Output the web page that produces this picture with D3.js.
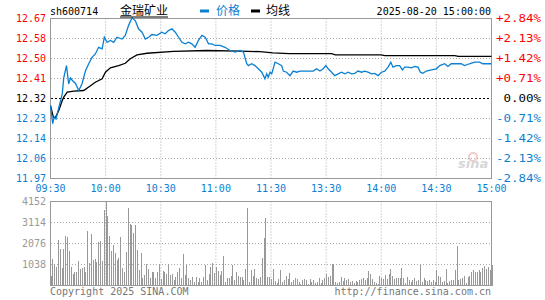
<!DOCTYPE html>
<html>
<head>
<meta charset="utf-8">
<script src="https://cdn.jsdelivr.net/npm/d3@7"></script>
<style>
  body { margin: 0; background: #fff; }
  svg text { font-family: "DejaVu Sans Mono", "Liberation Mono", monospace; font-size: 10px; }
  .cjk { font-family: "Noto Sans CJK SC", sans-serif; font-size: 12px; }
</style>
</head>
<body>
<div id="chart"></div>
<script>
const stockCode = "sh600714";
const stockName = "金瑞矿业";
const quoteTime = "2025-08-20 15:00:00";
const prevClose = 12.32;

const priceTicks = ["12.67", "12.58", "12.50", "12.41", "12.32", "12.23", "12.14", "12.06", "11.97"];
const pctTicks = ["+2.84%", "+2.13%", "+1.42%", "+0.71%", "0.00%", "-0.71%", "-1.42%", "-2.13%", "-2.84%"];
const volTicks = [4152, 3114, 2076, 1038];
const timeTicks = ["09:30", "10:00", "10:30", "11:00", "11:30", "13:30", "14:00", "14:30", "15:00"];

// price line: minute index / price
const priceMin = [0, 1.2, 2, 3, 4.5, 6.4, 7.2, 8.7, 9.9, 10.9, 11.8, 13.6, 15.4, 17.2, 19, 20.8, 22.6, 24.4, 26.2, 28.1,
  29.3, 30.8, 32.6, 34.4, 36.2, 38.9, 40.7, 42.5, 44.4, 46.2, 47.9, 49.8, 51.6, 53.4, 55.2, 57.9, 60.6, 62.4, 64.2, 66.1,
  67.9, 69.7, 71.5, 73.3, 75.1, 76.9, 78.7, 80.5, 82.4, 84.2, 86, 87.8, 89.6, 92.3, 95, 97.7, 100.5, 103.2, 105, 106.8,
  107.7, 109.5, 111.3, 113.1, 115, 116.7, 117.7, 118.5, 119.5, 120.4, 122.2, 124, 125.8, 126.7, 128.5, 130.3, 132.1, 134, 135.7, 139.4,
  143, 144.8, 146.6, 148.4, 149.9, 151.1, 153, 154.7, 156.5, 158.4, 160.2, 162, 163.8, 165.6, 167.4, 169.3, 171, 172.8, 174.7, 176.5,
  178.3, 180.1, 181.9, 183.7, 185.2, 186.4, 188.2, 190, 191.5, 192.8, 194.5, 196.4, 198.2, 200, 201.3, 202.7, 204.5, 207.3, 210, 211.8,
  214.5, 216.3, 218.1, 220.8, 223.5, 225.3, 228, 230.8, 233.5, 235.3, 238, 240];
const priceVal = [12.29, 12.21, 12.238, 12.23, 12.28, 12.34, 12.41, 12.464, 12.384, 12.41, 12.40, 12.386, 12.355, 12.386, 12.44, 12.472, 12.50, 12.515, 12.544, 12.537,
  12.588, 12.566, 12.574, 12.566, 12.588, 12.58, 12.596, 12.64, 12.673, 12.66, 12.625, 12.61, 12.58, 12.588, 12.60, 12.596, 12.61, 12.603, 12.617, 12.625,
  12.61, 12.588, 12.566, 12.559, 12.566, 12.559, 12.544, 12.574, 12.596, 12.588, 12.559, 12.559, 12.552, 12.552, 12.544, 12.53, 12.523, 12.53, 12.523, 12.472,
  12.464, 12.472, 12.464, 12.45, 12.435, 12.406, 12.428, 12.413, 12.435, 12.428, 12.479, 12.472, 12.464, 12.44, 12.435, 12.42, 12.44, 12.435, 12.44, 12.44,
  12.44, 12.45, 12.44, 12.45, 12.464, 12.45, 12.435, 12.42, 12.428, 12.435, 12.428, 12.435, 12.428, 12.43, 12.44, 12.435, 12.44, 12.435, 12.428, 12.43,
  12.42, 12.435, 12.44, 12.457, 12.479, 12.457, 12.464, 12.464, 12.445, 12.457, 12.457, 12.454, 12.46, 12.457, 12.435, 12.43, 12.44, 12.445, 12.45, 12.464,
  12.472, 12.46, 12.472, 12.472, 12.472, 12.464, 12.472, 12.479, 12.479, 12.472, 12.472, 12.472];

// average line
const avgMin = [0, 1.6, 2.7, 4.5, 6.4, 7.2, 9.1, 12.7, 18.1, 20.8, 24.4, 28.1, 29.9, 32.6, 37.1, 40.7, 43.4, 47.1, 52.5, 66.9,
  85.1, 103.2, 114, 121, 130, 153, 155, 180, 182, 220, 222, 240];
const avgVal = [12.289, 12.237, 12.237, 12.268, 12.311, 12.326, 12.348, 12.352, 12.355, 12.37, 12.391, 12.406, 12.435, 12.454, 12.464, 12.474, 12.494, 12.511, 12.518, 12.526,
  12.53, 12.527, 12.525, 12.52, 12.516, 12.516, 12.511, 12.511, 12.508, 12.508, 12.504, 12.504];

// volume per minute
const volumes = [478, 1320, 1073, 924, 2260, 1815, 858, 1815, 2458, 2409, 1716, 924, 577, 676, 676, 1221, 825, 874, 924, 676,
  2706, 1122, 2557, 1270, 1320, 1171, 2161, 2211, 1221, 3740, 4152, 3444, 2458, 1716, 2013, 1617, 1270, 1369, 2409, 874,
  676, 1666, 3839, 3049, 3000, 2607, 3000, 1765, 775, 1617, 379, 528, 1073, 825, 379, 676, 676, 379, 676, 1073,
  330, 726, 676, 577, 1073, 528, 577, 280, 429, 676, 874, 379, 1568, 528, 1023, 379, 280, 429, 181, 429,
  181, 379, 181, 429, 1023, 280, 577, 924, 1122, 627, 924, 726, 528, 726, 1469, 181, 379, 379, 478, 1023,
  280, 676, 478, 429, 429, 280, 825, 3839, 181, 775, 478, 825, 379, 330, 429, 1369, 2359, 3345, 429, 429,
  330, 825, 231, 132, 330, 775, 181, 280, 478, 330, 627, 181, 280, 379, 330, 181, 82, 280, 330, 280,
  82, 330, 181, 280, 132, 181, 379, 132, 280, 379, 577, 429, 478, 1073, 1073, 181, 132, 181, 429, 231,
  379, 280, 330, 181, 231, 132, 231, 181, 280, 330, 379, 280, 379, 726, 577, 330, 181, 132, 82, 478,
  379, 330, 528, 330, 577, 825, 478, 330, 379, 379, 379, 874, 379, 132, 429, 280, 181, 280, 379, 231,
  280, 1073, 181, 379, 280, 231, 280, 181, 280, 181, 775, 478, 429, 181, 231, 825, 132, 231, 280, 280,
  775, 1964, 280, 330, 379, 478, 132, 429, 478, 676, 775, 676, 676, 775, 676, 874, 974, 825, 924, 775, 1023];

const W = 545, H = 300;
const left = 50.5, right = 491.5;
const blue = "#0a80d2", red = "#ff0000", gridC = "#aaaaaa", borderC = "#999999";

const svg = d3.select("#chart").append("svg").attr("width", W).attr("height", H);

const x = d3.scaleLinear().domain([0, 240]).range([left, right]);
const yP = d3.scaleLinear().domain([11.97, 12.67]).range([178.5, 18.5]);
const yV = d3.scaleLinear().domain([0, 4152]).range([285.5, 201.5]);
const tickStep = 0.0875;
const tickPrice = i => prevClose + (4 - i) * tickStep;
const tickColor = i => i < 4 ? red : (i === 4 ? "#000" : blue);

// grids
const vLines = d3.range(1, 8).map(i => i * 30);
svg.append("g").selectAll("line").data(vLines).enter().append("line")
  .attr("x1", d => x(d)).attr("x2", d => x(d)).attr("y1", 18.5).attr("y2", 178.5)
  .attr("stroke", gridC).attr("stroke-dasharray", "1,2");
svg.append("g").selectAll("line").data(vLines).enter().append("line")
  .attr("x1", d => x(d)).attr("x2", d => x(d)).attr("y1", 201.5).attr("y2", 285.5)
  .attr("stroke", gridC).attr("stroke-dasharray", "1,2");
svg.append("g").selectAll("line").data([1, 2, 3, 5, 6, 7]).enter().append("line")
  .attr("x1", left).attr("x2", right).attr("y1", i => yP(tickPrice(i))).attr("y2", i => yP(tickPrice(i)))
  .attr("stroke", gridC).attr("stroke-dasharray", "1,2").attr("shape-rendering", "crispEdges");
svg.append("line").attr("x1", left).attr("x2", right).attr("y1", yP(prevClose)).attr("y2", yP(prevClose))
  .attr("stroke", "#000").attr("stroke-dasharray", "2,2").attr("shape-rendering", "crispEdges");
svg.append("g").selectAll("line").data(volTicks.slice(1)).enter().append("line")
  .attr("x1", left).attr("x2", right).attr("y1", d => yV(d)).attr("y2", d => yV(d))
  .attr("stroke", gridC).attr("stroke-dasharray", "1,2").attr("shape-rendering", "crispEdges");

// watermark
const wm = svg.append("g").attr("opacity", 0.6);
wm.append("circle").attr("cx", 473).attr("cy", 157).attr("r", 4).attr("fill", "none").attr("stroke", "#f0a8a8").attr("stroke-width", 2);
wm.append("text").attr("x", 458).attr("y", 168).text("sina")
  .style("font-family", "DejaVu Sans").style("font-size", "13px").style("font-style", "italic").style("font-weight", "bold").attr("fill", "#bbbbbb");

// borders
svg.append("rect").attr("x", left).attr("y", 18.5).attr("width", right - left).attr("height", 160)
  .attr("fill", "none").attr("stroke", borderC);
svg.append("rect").attr("x", left).attr("y", 201.5).attr("width", right - left).attr("height", 84)
  .attr("fill", "none").attr("stroke", borderC);

// volume bars
svg.append("g").selectAll("line").data(volumes).enter().append("line")
  .attr("x1", (d, i) => Math.round(x(i)) + 0.5).attr("x2", (d, i) => Math.round(x(i)) + 0.5)
  .attr("y1", yV(0)).attr("y2", d => yV(d))
  .attr("stroke", "#999999").attr("shape-rendering", "crispEdges");

// lines
const line = d3.line().x(d => x(d[0])).y(d => yP(d[1]));
svg.append("path").datum(avgMin.map((m, i) => [m, avgVal[i]]))
  .attr("d", line).attr("fill", "none").attr("stroke", "#000").attr("stroke-width", 1.3);
svg.append("path").datum(priceMin.map((m, i) => [m, priceVal[i]]))
  .attr("d", line).attr("fill", "none").attr("stroke", blue).attr("stroke-width", 1.3);

// left price labels
svg.append("g").selectAll("text").data(priceTicks).enter().append("text")
  .attr("x", 46).attr("y", (d, i) => yP(tickPrice(i)) + 3.5)
  .attr("text-anchor", "end").attr("fill", (d, i) => tickColor(i)).text(d => d);

// right percent labels (wide font)
svg.append("g").selectAll("text").data(pctTicks).enter().append("text")
  .attr("x", 541).attr("y", (d, i) => yP(tickPrice(i)) + 3.5)
  .attr("text-anchor", "end").attr("fill", (d, i) => tickColor(i))
  .attr("textLength", d => d.length * 7.5).attr("lengthAdjust", "spacingAndGlyphs").text(d => d);

// time axis
svg.append("g").selectAll("text").data(timeTicks).enter().append("text")
  .attr("x", (d, i) => x(i * 30)).attr("y", 192)
  .attr("text-anchor", "middle").attr("fill", blue).text(d => d);

// volume labels
svg.append("g").selectAll("text").data(volTicks).enter().append("text")
  .attr("x", 46).attr("y", d => yV(d) + 3.5)
  .attr("text-anchor", "end").attr("fill", "#999999").text(d => d);

// header
svg.append("text").attr("x", 50).attr("y", 15).attr("fill", "#000").text(stockCode);
svg.append("text").attr("class", "cjk").attr("x", 120).attr("y", 15).attr("fill", "#000").text(stockName);
svg.append("line").attr("x1", 120).attr("x2", 168).attr("y1", 17).attr("y2", 17).attr("stroke", "#000");
svg.append("rect").attr("x", 200).attr("y", 9.5).attr("width", 9).attr("height", 3).attr("fill", blue);
svg.append("text").attr("class", "cjk").attr("x", 216).attr("y", 15).attr("fill", blue).text("价格");
svg.append("rect").attr("x", 251).attr("y", 9.5).attr("width", 9).attr("height", 3).attr("fill", "#000");
svg.append("text").attr("class", "cjk").attr("x", 266).attr("y", 15).attr("fill", "#000").text("均线");
svg.append("text").attr("x", 491).attr("y", 15).attr("text-anchor", "end").attr("fill", "#000").text(quoteTime);

// footer
svg.append("text").attr("x", 50).attr("y", 295).attr("fill", "#777").text("Copyright 2025 SINA.COM");
svg.append("text").attr("x", 491).attr("y", 295).attr("text-anchor", "end").attr("fill", "#777").text("http://finance.sina.com.cn");
</script>
</body>
</html>
